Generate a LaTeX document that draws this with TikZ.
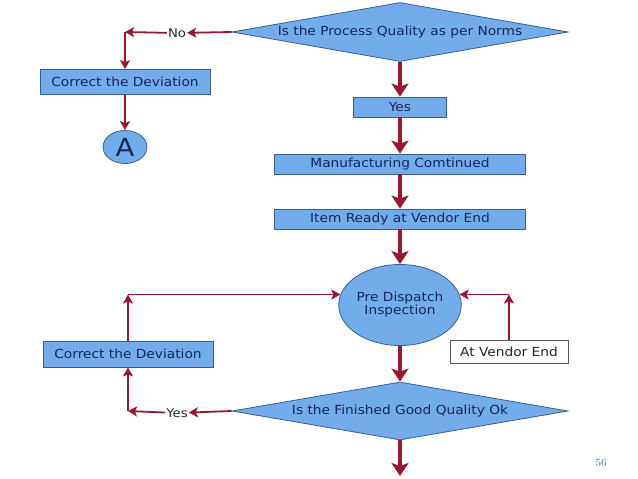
\documentclass[tikz,border=0pt]{standalone}
\usepackage{fontspec}
\setmainfont{DejaVu Sans}[FakeStretch=1.1]
\newfontfamily\numfont{Latin Modern Roman}
\usetikzlibrary{shapes.geometric,arrows.meta}
\definecolor{boxfill}{RGB}{114,172,234}
\definecolor{boxdraw}{RGB}{58,92,140}
\definecolor{txt}{RGB}{24,38,86}
\definecolor{arr}{RGB}{152,24,50}
\definecolor{pnum}{RGB}{62,122,160}
\begin{document}
\begin{tikzpicture}[x=1pt,y=-1pt,
  box/.style={draw=boxdraw, fill=boxfill, line width=0.8pt, text=txt,
    font=\fontsize{12.5}{13}\selectfont, inner sep=0pt},
  dec/.style={diamond, shape aspect=5.7, draw=boxdraw, fill=boxfill, line width=0.8pt, text=txt,
    font=\fontsize{12.5}{13}\selectfont, inner sep=0pt,
    minimum width=336pt, minimum height=59pt},
  mainarrow/.style={draw=arr, line width=3.5pt, -{Stealth[length=13pt,width=17pt,inset=3pt]}},
  sidearrow/.style={draw=arr, line width=1.8pt, -{Stealth[length=9pt,width=10pt,inset=2pt]}},
  lbl/.style={text=black!85, font=\fontsize{12}{13}\selectfont, inner sep=1pt}
]
\useasboundingbox (0,0) rectangle (638,479);

% top decision
\node[dec] (q1) at (400,32) {Is the Process Quality as per Norms};
\node[lbl] (no) at (177,33) {No};
\node[box, minimum width=170pt, minimum height=25pt] (cd1) at (125,82) {Correct the Deviation};
\node[ellipse, draw=boxdraw, fill=boxfill, line width=0.8pt, text=txt, inner sep=0pt,
  minimum width=44pt, minimum height=33pt, font=\fontsize{25}{25}\selectfont] (A) at (125,147) {A};
\coordinate (c1) at (cd1.north |- q1.west);

\node[box, minimum width=93pt, minimum height=20pt] (yes1) at (400,107) {Yes};
\node[box, minimum width=251pt, minimum height=20pt] (mfg) at (400,164) {Manufacturing Comtinued};
\node[box, minimum width=251pt, minimum height=20pt] (ready) at (400,219) {Item Ready at Vendor End};
\node[ellipse, draw=boxdraw, fill=boxfill, line width=0.8pt, text=txt, inner sep=0pt,
  minimum width=104pt, minimum height=81pt, align=center,
  font=\fontsize{12.5}{13}\selectfont] (pdi) at (400,305) {Pre Dispatch\\Inspection};
\node[box, fill=white, draw=black!65, text=black!85, minimum width=118pt, minimum height=23pt] (ve) at (509,352) {At Vendor End};
\node[dec, minimum height=58pt] (q2) at (400,411) {Is the Finished Good Quality Ok};
\node[lbl] (yes2) at (177,413) {Yes};
\node[box, minimum width=170pt, minimum height=26pt] (cd2) at (128,354) {Correct the Deviation};
\coordinate (c2) at (cd2.north |- pdi.170);
\coordinate (c3) at (cd2.south |- q2.west);
\coordinate (c4) at (ve.north |- pdi.10);
\coordinate (endpt) at (400,476);

\node[text=pnum, font=\numfont\fontsize{11}{12}\selectfont, inner sep=0pt] (pg) at (601,463) {56};

% connectors
\draw[sidearrow] (q1.west) -- (no);
\draw[sidearrow] (no) -- (c1);
\draw[sidearrow] (c1) -- (cd1.north);
\draw[sidearrow] (cd1.south) -- (A.north);

\draw[mainarrow] (q1.south) -- (yes1.north);
\draw[mainarrow] (yes1.south) -- (mfg.north);
\draw[mainarrow] (mfg.south) -- (ready.north);
\draw[mainarrow] (ready.south) -- (pdi.north);
\draw[mainarrow] (pdi.south) -- (q2.north);
\draw[mainarrow] (q2.south) -- (endpt);

\draw[sidearrow] (ve.north) -- (c4);
\draw[sidearrow] (c4) -- (pdi.10);
\draw[sidearrow] (cd2.north) -- (c2);
\draw[sidearrow] (c2) -- (pdi.170);
\draw[sidearrow] (q2.west) -- (yes2);
\draw[sidearrow] (yes2) -- (c3);
\draw[sidearrow] (c3) -- (cd2.south);
\end{tikzpicture}
\end{document}
